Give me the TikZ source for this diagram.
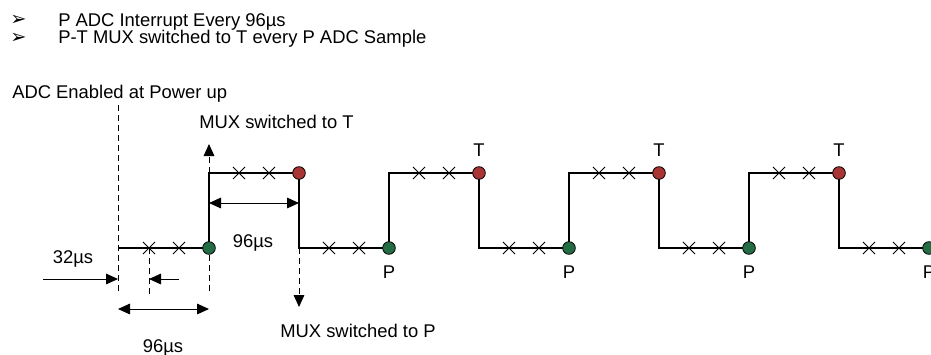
\documentclass[tikz,border=0pt]{standalone}
\usepackage{fontspec}
\setmainfont{Liberation Sans}
\newfontfamily\dingfont{DejaVu Sans}
\usetikzlibrary{arrows.meta,shapes.misc,calc}
\definecolor{dotgreen}{RGB}{36,108,68}
\definecolor{dotred}{RGB}{168,52,52}

\begin{document}
\begin{tikzpicture}[x=0.75pt,y=-0.75pt,>={Triangle[length=9pt,width=8pt]},
	txt/.style={font=\fontsize{13.8pt}{16pt}\selectfont,inner sep=0pt},
	bul/.style={font=\dingfont\fontsize{14.5pt}{16pt}\selectfont,inner sep=0pt,text height=7pt,text depth=0pt},
	wave/.style={line width=1.7pt,line join=miter},
	guide/.style={line width=0.75pt,dash pattern=on 4.5pt off 3pt},
	dim/.style={line width=0.75pt},
	gdot/.style={circle,draw,line width=0.6pt,fill=dotgreen,minimum size=9.5pt,inner sep=0pt},
	rdot/.style={circle,draw,line width=0.6pt,fill=dotred,minimum size=9.5pt,inner sep=0pt},
	xmark/.style={cross out,draw,line width=0.6pt,minimum size=8.5pt,inner sep=0pt}]
\useasboundingbox (0,0) rectangle (931,354);
\def\lo{248}
\def\hi{173}
% header text
\node[bul,anchor=base west] (bulA) at (10,25) {➢};
\node[txt,anchor=base west] (lineA) at (58,26) {P ADC Interrupt Every 96µs};
\node[bul,anchor=base west] (bulB) at (10,43) {➢};
\node[txt,anchor=base west] (lineB) at (58,43) {P-T MUX switched to T every P ADC Sample};
\node[txt,anchor=base west] (enable) at (12,98) {ADC Enabled at Power up};
% sample points
\coordinate (S) at (118,\lo);
\foreach \k in {0,...,4}
	\coordinate (G\k) at ({209+180*\k},\lo);
\foreach \k in {0,...,3}
	\coordinate (R\k) at ({299+180*\k},\hi);
% waveform
\draw[wave] (S) -- (G0)
	\foreach \k [evaluate=\k as \n using int(\k+1)] in {0,...,3}{ |- (R\k) |- (G\n) };
\foreach \k in {0,...,4}{
	\node[xmark] (xg\k a) at ($(G\k)+(-60,0)$) {};
	\node[xmark] (xg\k b) at ($(G\k)+(-30,0)$) {};
}
\foreach \k in {0,...,3}{
	\node[xmark] (xr\k a) at ($(R\k)+(-60,0)$) {};
	\node[xmark] (xr\k b) at ($(R\k)+(-30,0)$) {};
}
\foreach \k in {0,...,4}
	\node[gdot] (g\k) at (G\k) {};
\foreach \k in {0,...,3}
	\node[rdot] (r\k) at (R\k) {};
\foreach \k in {1,...,4}
	\node[txt,anchor=base] (p\k) at ($(G\k)+(0,30)$) {P};
\foreach \k in {1,...,3}
	\node[txt,anchor=base] (t\k) at ($(R\k)+(0,-17)$) {T};
% guide lines
\coordinate (top) at (118,105);
\coordinate (bot) at (118,294);
\draw[guide] (top) -- (bot);
\draw[guide] (xg0a.center) -- (xg0a.center |- bot);
\draw[guide] (g0) -- (g0 |- bot);
\coordinate (upT) at (209,144);
\draw[guide,->] (g0 |- r0) -- (upT);
\coordinate (dnP) at (299,307);
\draw[guide,->] (r0 |- g0) -- (dnP);
\node[txt,anchor=base west] (muxT) at (199,128) {MUX switched to T};
\node[txt,anchor=base] (muxP) at (358,337) {MUX switched to P};
% dimensions
\coordinate (a1) at (43,279);
\coordinate (a2) at (179,279);
\draw[dim,->] (a1) -- (a1 -| bot);
\draw[dim,->] (a2) -- (a2 -| xg0a);
\node[txt,anchor=base] (d32) at (73,263) {32µs};
\coordinate (b1) at (118,309);
\draw[dim,<->] (b1) -- (b1 -| g0);
\node[txt,anchor=base] (d96a) at (163,352) {96µs};
\coordinate (c1) at (209,203);
\draw[dim,<->] (c1) -- (c1 -| r0);
\node[txt,anchor=base] (d96b) at (253,247) {96µs};
\end{tikzpicture}
\end{document}
